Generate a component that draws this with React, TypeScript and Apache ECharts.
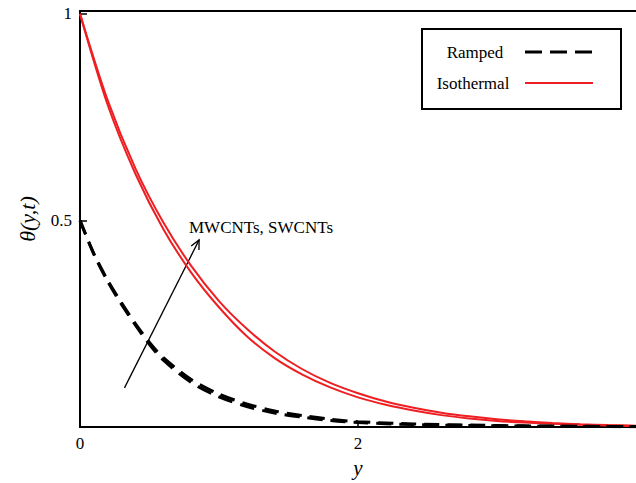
import React, { useEffect, useRef } from "react";
import * as echarts from "echarts";

// ---- data ----
const isoX = [0, 0.2, 0.4, 0.6, 0.8, 1.0, 1.2, 1.4, 1.6, 1.8, 2.0, 2.2, 2.4, 2.6, 2.8, 3.0, 3.2, 3.4, 3.6, 3.8, 4.0];
const isoOuter = [1.0, 0.79, 0.625, 0.495, 0.39, 0.305, 0.238, 0.183, 0.14, 0.107, 0.082, 0.062, 0.047, 0.035, 0.026, 0.019, 0.014, 0.01, 0.007, 0.005, 0.0035];
const isoInner = [1.0, 0.779, 0.612, 0.479, 0.374, 0.29, 0.22, 0.167, 0.127, 0.096, 0.072, 0.054, 0.04, 0.029, 0.021, 0.015, 0.011, 0.008, 0.0055, 0.004, 0.0027];

const rampX = [0, 0.1, 0.2, 0.3, 0.4, 0.5, 0.6, 0.8, 1.0, 1.2, 1.4, 1.6, 1.8, 2.0, 2.4, 2.8, 3.2, 3.6, 4.0];
const rampOuter = [0.5, 0.42, 0.355, 0.3, 0.25, 0.205, 0.168, 0.115, 0.08, 0.056, 0.039, 0.028, 0.019, 0.013, 0.0075, 0.005, 0.003, 0.002, 0.0012];
const rampInner = [0.5, 0.418, 0.352, 0.296, 0.246, 0.2, 0.162, 0.108, 0.073, 0.05, 0.034, 0.024, 0.016, 0.011, 0.006, 0.004, 0.0025, 0.0016, 0.001];

const xTickLabels = ["0", "2"];
const yTickLabels = ["0.5", "1"];
const arrowData = [[0.32, 0.095, 0.857, 0.453]];
const annotation = "MWCNTs, SWCNTs";
const legendNames = ["Ramped", "Isothermal"];

const RED = "#ee1f23";
const FONT = "Liberation Serif";

const pairs = (xs: number[], ys: number[]) => xs.map((x, i) => [x, ys[i]]);

export default function App() {
  const ref = useRef<HTMLDivElement>(null);
  useEffect(() => {
    if (!ref.current) return;
    const chart = echarts.init(ref.current, null, { renderer: "svg" });
    const lineBase = {
      type: "line",
      symbol: "none",
      smooth: 0.3,
      silent: true,
    };
    chart.setOption({
      animation: false,
      backgroundColor: "#fff",
      grid: { left: 80, top: 11, width: 560, height: 422 },
      xAxis: [
        {
          type: "value",
          min: 0,
          max: 4,
          interval: 2,
          name: "y",
          nameLocation: "middle",
          nameGap: 22,
          nameTextStyle: { fontFamily: FONT, fontStyle: "italic", fontSize: 21, color: "#000" },
          axisLine: { lineStyle: { color: "#000", width: 2 } },
          axisTick: { inside: true, length: 6, lineStyle: { color: "#000", width: 1.5 } },
          axisLabel: {
            margin: 8,
            fontFamily: FONT,
            fontSize: 17,
            color: "#000",
            showMaxLabel: false,
            formatter: (v: number) => xTickLabels.find((t) => Number(t) === v) ?? "",
          },
          splitLine: { show: false },
        },
        {
          type: "value",
          position: "top",
          min: 0,
          max: 4,
          axisLine: { show: true, lineStyle: { color: "#000", width: 2 } },
          axisTick: { show: false },
          axisLabel: { show: false },
          splitLine: { show: false },
        },
      ],
      yAxis: {
        type: "value",
        min: 0,
        max: 1.007,
        interval: 0.5,
        name: "θ(y,t)",
        nameLocation: "middle",
        nameGap: 42,
        nameTextStyle: { fontFamily: FONT, fontStyle: "italic", fontSize: 22, color: "#000" },
        axisLine: { show: true, lineStyle: { color: "#000", width: 2 } },
        axisTick: { inside: true, length: 7, lineStyle: { color: "#000", width: 1.5 } },
        axisLabel: {
          margin: 8,
          fontFamily: FONT,
          fontSize: 17,
          color: "#000",
          showMinLabel: false,
          showMaxLabel: false,
          formatter: (v: number) => yTickLabels.find((t) => Number(t) === v) ?? "",
        },
        splitLine: { show: false },
      },
      series: [
        { ...lineBase, name: "Isothermal A", data: pairs(isoX, isoOuter), lineStyle: { color: RED, width: 2 } },
        { ...lineBase, name: "Isothermal B", data: pairs(isoX, isoInner), lineStyle: { color: RED, width: 2 } },
        { ...lineBase, name: "Ramped A", data: pairs(rampX, rampOuter), lineStyle: { color: "#000", width: 3, type: [15, 8] } },
        { ...lineBase, name: "Ramped B", data: pairs(rampX, rampInner), lineStyle: { color: "#000", width: 3, type: [15, 8] } },
        {
          type: "custom",
          silent: true,
          data: arrowData,
          encode: { x: [0, 2], y: [1, 3] },
          renderItem: (params: any, api: any) => {
            const p0 = api.coord([api.value(0), api.value(1)]);
            const p1 = api.coord([api.value(2), api.value(3)]);
            const ang = Math.atan2(p1[1] - p0[1], p1[0] - p0[0]);
            const L = 10;
            const spread = 0.45;
            const a = [p1[0] - L * Math.cos(ang - spread), p1[1] - L * Math.sin(ang - spread)];
            const b = [p1[0] - L * Math.cos(ang + spread), p1[1] - L * Math.sin(ang + spread)];
            return {
              type: "group",
              children: [
                { type: "line", shape: { x1: p0[0], y1: p0[1], x2: p1[0], y2: p1[1] }, style: { stroke: "#000", lineWidth: 1.3 } },
                { type: "polyline", shape: { points: [a, p1, b] }, style: { stroke: "#000", fill: "none", lineWidth: 1.3 } },
              ],
            };
          },
        },
      ],
      graphic: [
        {
          type: "text",
          left: 189,
          top: 219,
          style: { text: annotation, fontFamily: FONT, fontSize: 17, fill: "#000" },
        },
        {
          type: "rect",
          shape: { x: 422, y: 29, width: 199, height: 80 },
          style: { fill: "#fff", stroke: "#000", lineWidth: 2 },
        },
        {
          type: "text",
          x: 475,
          y: 52,
          style: { text: legendNames[0], fontFamily: FONT, fontSize: 17, fill: "#000", align: "center", verticalAlign: "middle" },
        },
        {
          type: "text",
          x: 473,
          y: 83,
          style: { text: legendNames[1], fontFamily: FONT, fontSize: 17, fill: "#000", align: "center", verticalAlign: "middle" },
        },
        {
          type: "line",
          shape: { x1: 525, y1: 52, x2: 594, y2: 52 },
          style: { stroke: "#000", lineWidth: 3, lineDash: [17, 8] },
        },
        {
          type: "line",
          shape: { x1: 525, y1: 83, x2: 593, y2: 83 },
          style: { stroke: RED, lineWidth: 2 },
        },
      ],
    });
    return () => chart.dispose();
  }, []);
  return <div ref={ref} style={{ position: "fixed", left: 0, top: 0, width: 636, height: 483 }} />;
}
